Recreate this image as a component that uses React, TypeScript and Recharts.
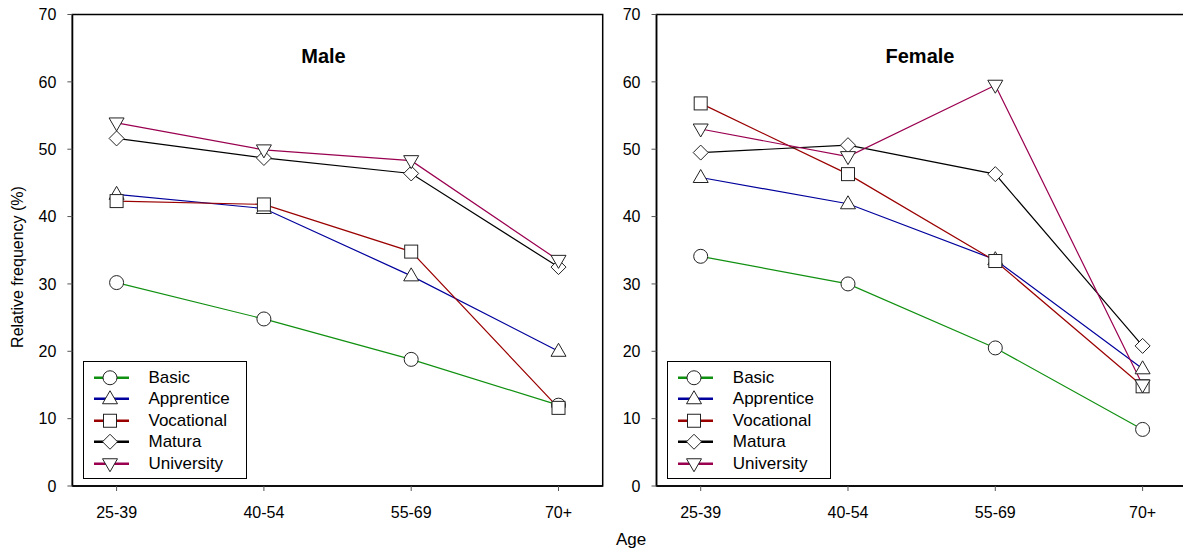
import React from 'react';
import {Line, LineChart, ReferenceArea, XAxis, YAxis} from 'recharts';

const ageGroups = ['25-39', '40-54', '55-69', '70+'];
const seriesNames = ['Basic', 'Apprentice', 'Vocational', 'Matura', 'University'];
const yTicks = [0, 10, 20, 30, 40, 50, 60, 70];

const maleBasic = [30.2, 24.8, 18.8, 12.0];
const maleApprentice = [43.3, 41.2, 31.2, 20.0];
const maleVocational = [42.3, 41.8, 34.8, 11.6];
const maleMatura = [51.6, 48.7, 46.4, 32.5];
const maleUniversity = [53.9, 49.9, 48.3, 33.5];

const femaleBasic = [34.1, 30.0, 20.5, 8.4];
const femaleApprentice = [45.8, 41.9, 33.6, 17.4];
const femaleVocational = [56.8, 46.3, 33.4, 14.8];
const femaleMatura = [49.5, 50.6, 46.3, 20.8];
const femaleUniversity = [53.0, 48.9, 59.5, 15.0];

const colors = ['#109010', '#00009c', '#9a0000', '#000000', '#990050'];
const shapes = ['circle', 'triangleUp', 'square', 'diamond', 'triangleDown'];

const FONT = '"Liberation Sans", Arial, sans-serif';

const buildRows = (cols: number[][]) =>
    ageGroups.map((age, i) => {
        const row: Record<string, number | string> = {idx: i, age};
        seriesNames.forEach((name, s) => {
            row[name] = cols[s][i];
        });
        return row;
    });

const maleData = buildRows([maleBasic, maleApprentice, maleVocational, maleMatura, maleUniversity]);
const femaleData = buildRows([femaleBasic, femaleApprentice, femaleVocational, femaleMatura, femaleUniversity]);

const Marker = ({shape, cx, cy}: {shape: string; cx: number; cy: number}) => {
    const p = {fill: '#fff', stroke: '#222', strokeWidth: 1};
    if (shape === 'circle') return <circle cx={cx} cy={cy} r={7} {...p}/>;
    if (shape === 'square') return <rect x={cx - 6.5} y={cy - 6.5} width={13} height={13} {...p}/>;
    if (shape === 'diamond')
        return <polygon points={`${cx},${cy - 7.5} ${cx + 7.5},${cy} ${cx},${cy + 7.5} ${cx - 7.5},${cy}`} {...p}/>;
    if (shape === 'triangleUp')
        return <polygon points={`${cx},${cy - 8} ${cx + 7.5},${cy + 5} ${cx - 7.5},${cy + 5}`} {...p}/>;
    return <polygon points={`${cx - 7.5},${cy - 5} ${cx + 7.5},${cy - 5} ${cx},${cy + 8}`} {...p}/>;
};

// legend drawn outside the chart so it doesn't shrink the plot area
const LegendBox = ({left}: {left: number}) => (
    <div style={{
        position: 'absolute', left, top: 361,
        width: 162, height: 116, border: '1.5px solid #000', background: '#fff',
        boxSizing: 'content-box', fontFamily: FONT, fontSize: 17, color: '#000'
    }}>
        {seriesNames.map((name, s) => (
            <div key={name} style={{position: 'relative', height: 21.5, marginTop: s === 0 ? 4.5 : 0}}>
                <svg width={40} height={21.5} style={{position: 'absolute', left: 9, top: 0}}>
                    <line x1={1} x2={36} y1={10.75} y2={10.75} stroke={colors[s]} strokeWidth={2.5}/>
                    <Marker shape={shapes[s]} cx={17} cy={10.75}/>
                </svg>
                <span style={{position: 'absolute', left: 65, top: 0, lineHeight: '21.5px'}}>{name}</span>
            </div>
        ))}
    </div>
);

const Panel = ({data, width, marginLeft, yAxisWidth}: {
    data: Record<string, number | string>[];
    width: number;
    marginLeft: number;
    yAxisWidth: number;
}) => (
    <LineChart width={width} height={550} data={data}
               margin={{top: 14.5, right: width - marginLeft - yAxisWidth - 530.3, bottom: 34, left: marginLeft}}
               style={{fontFamily: FONT}}>
        <XAxis dataKey="idx" type="number" domain={[-0.3, 3.3]} ticks={[0, 1, 2, 3]}
               tickFormatter={(v: number) => ageGroups[v]} allowDataOverflow height={30}
               tickSize={5} tickMargin={16} tick={{fill: '#000', fontSize: 16}}
               axisLine={{stroke: '#000', strokeWidth: 1.5}} tickLine={{stroke: '#555'}}/>
        <YAxis type="number" domain={[0, 70]} ticks={yTicks} width={yAxisWidth}
               tickSize={5} tickMargin={11} tick={{fill: '#000', fontSize: 16}}
               axisLine={{stroke: '#000', strokeWidth: 1.5}} tickLine={{stroke: '#555'}}/>
        <ReferenceArea x1={-0.3} x2={3.3} y1={0} y2={70} fill="none" stroke="#000" strokeWidth={1.5}
                       ifOverflow="visible"/>
        {seriesNames.map((name, s) => (
            <Line key={name} dataKey={name} stroke={colors[s]} strokeWidth={1.2}
                  isAnimationActive={false}
                  dot={(props: any) => <Marker key={`${name}-${props.index}`} shape={shapes[s]} cx={props.cx} cy={props.cy}/>}
                  activeDot={false}/>
        ))}
    </LineChart>
);

export default function App() {
    return (
        <div style={{
            position: 'absolute', left: 0, top: 0, width: 1183, height: 550,
            overflow: 'hidden', background: '#fff', fontFamily: FONT
        }}>
            <div style={{position: 'absolute', left: 0, top: 0}}>
                <Panel data={maleData} width={610} marginLeft={12.4} yAxisWidth={60}/>
            </div>
            <div style={{position: 'absolute', left: 600, top: 0}}>
                <Panel data={femaleData} width={600} marginLeft={6.5} yAxisWidth={50}/>
            </div>
            <LegendBox left={82.5}/>
            <LegendBox left={666.8}/>
            <svg width={1183} height={550} style={{position: 'absolute', left: 0, top: 0, pointerEvents: 'none'}}>
                <text x={323.5} y={62.5} textAnchor="middle" fontFamily={FONT} fontWeight="bold" fontSize={20}
                      fill="#000">Male</text>
                <text x={920} y={62.5} textAnchor="middle" fontFamily={FONT} fontWeight="bold" fontSize={20}
                      fill="#000">Female</text>
                <text x={22.7} y={267} transform="rotate(-90 22.7 267)" textAnchor="middle" fontFamily={FONT}
                      fontSize={16} fill="#000">Relative frequency (%)</text>
                <text x={631} y={544.5} textAnchor="middle" fontFamily={FONT} fontSize={17} fill="#000">Age</text>
            </svg>
        </div>
    );
}
